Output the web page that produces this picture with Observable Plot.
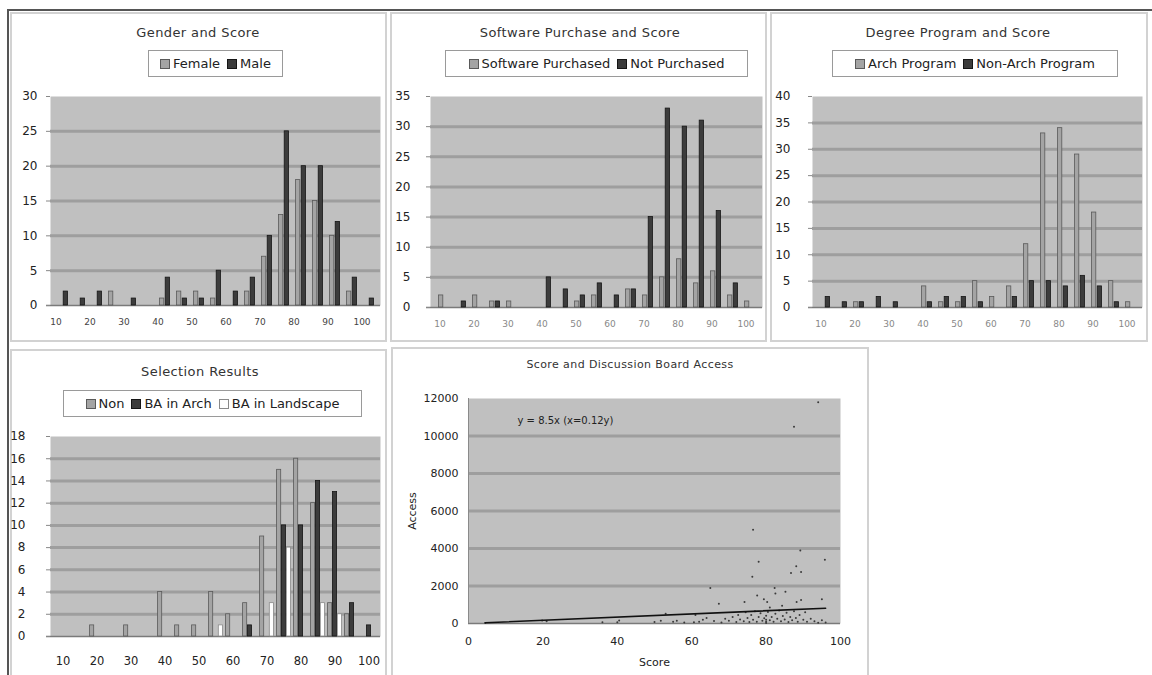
<!DOCTYPE html>
<html><head><meta charset="utf-8">
<script src="https://cdn.jsdelivr.net/npm/d3@7"></script>
<script src="https://cdn.jsdelivr.net/npm/@observablehq/plot@0.6"></script>
<style>
body{margin:0;background:#fff;}
#root{position:relative;width:1152px;height:675px;overflow:hidden;font-family:"DejaVu Sans",sans-serif;color:#222;}
.panel{position:absolute;border:2px solid #d2d2d2;box-sizing:border-box;background:#fff;}
.title{position:absolute;transform:translateX(-50%);white-space:nowrap;font-size:13px;line-height:14px;color:#333;letter-spacing:0.4px;}
.legend{position:absolute;box-sizing:border-box;border:1px solid #9a9a9a;background:#fff;display:flex;align-items:center;justify-content:center;gap:7px;font-size:13px;color:#222;white-space:nowrap;}
.legend .item{display:flex;align-items:center;}
.sw{display:inline-block;width:8px;height:8px;border:1px solid #444;margin-right:3px;}
.chart{position:absolute;}
</style></head>
<body>
<div id="root"></div>
<script>
// ---------- data ----------
const scoreBins = [10,15,20,25,30,35,40,45,50,55,60,65,70,75,80,85,90,95,100];
const xTickLabels = [10,20,30,40,50,60,70,80,90,100];

const genderFemale = [0,0,0,2,0,0,1,2,2,1,0,2,7,13,18,15,10,2,0];
const genderMale   = [2,1,2,0,1,0,4,1,1,5,2,4,10,25,20,20,12,4,1];

const swPurchased    = [2,0,2,1,1,0,0,0,1,2,0,3,2,5,8,4,6,2,1];
const swNotPurchased = [0,1,0,1,0,0,5,3,2,4,2,3,15,33,30,31,16,4,0];

const archProgram    = [0,0,1,0,0,0,4,1,1,5,2,4,12,33,34,29,18,5,1];
const nonArchProgram = [2,1,1,2,1,0,1,2,2,1,0,2,5,5,4,6,4,1,0];

const selNon         = [0,0,1,0,1,0,4,1,1,4,2,3,9,15,16,12,3,2,0];
const selBAArch      = [0,0,0,0,0,0,0,0,0,0,0,1,0,10,10,14,13,3,1];
const selBALandscape = [0,0,0,0,0,0,0,0,0,1,0,0,3,8,0,3,2,0,0];

const boardScore  = [94,87.5,76.5,78,76.3,89.2,88.1,86.7,89.4,95.8,65,67.3,74.2,77.6,79.4,80.3,82.3,82.5,85.2,88.2,89.4,95,84.3,81,
  4.5,19.8,21,36,40,40.5,50,51.7,53,55,56,58,60.6,61,62,63,64,66,68,69,70,71,72,72.5,73,74,74.5,75,75.5,76,76.5,77,77.5,78,78.5,79,79.5,
  80,80,80,80,80.5,81,81.5,82,82.5,83,83.5,84,84.5,85,85.5,86,86.5,87,87.5,88,88.5,89,90,90.5,91,92,93,94,95,96];
const boardAccess = [11800,10500,5000,3300,2500,3900,3050,2700,2750,3400,1900,1050,1150,1500,1300,1150,1900,1600,1700,1150,1250,1300,950,850,
  30,160,120,70,70,160,80,150,520,100,150,60,70,450,90,200,300,130,60,250,150,350,80,450,220,120,600,300,80,450,200,650,100,350,550,150,280,
  30,100,200,420,620,180,350,90,520,250,700,120,400,220,580,80,350,180,650,300,100,450,200,600,100,250,120,40,180,60];

const trendSlope = 8.5;
const trendScores = [4.5, 96];
const equationLabel = "y = 8.5x (x=0.12y)";

// ---------- layout helpers ----------
const root = document.getElementById("root");
function div(cls, css, html) {
  const d = document.createElement("div");
  d.className = cls;
  Object.assign(d.style, css);
  if (html !== undefined) d.innerHTML = html;
  root.appendChild(d);
  return d;
}
function px(v){return v + "px";}

// outer frame lines
div("", {position:"absolute", left:"8px", top:"9px", width:"1144px", height:"2px", background:"#555"});
div("", {position:"absolute", left:"7px", top:"9px", width:"2px", height:"670px", background:"#555"});

// panels
div("panel", {left:"10px", top:"12px", width:"377px", height:"330px"});
div("panel", {left:"390px", top:"12px", width:"377px", height:"330px"});
div("panel", {left:"770px", top:"12px", width:"378px", height:"330px"});
div("panel", {left:"10px", top:"349px", width:"377px", height:"340px"});
div("panel", {left:"391px", top:"347px", width:"478px", height:"340px"});

function title(text, cx, cy, size) {
  div("title", {left:px(cx), top:px(cy - 7), fontSize: px(size || 13)}, text);
}
function legend(items, left, top, w, h) {
  const html = items.map(it => `<span class="item"><span class="sw" style="background:${it.fill};border-color:${it.stroke}"></span>${it.name}</span>`).join("");
  div("legend", {left:px(left), top:px(top), width:px(w), height:px(h)}, html);
}

function barChart(cfg) {
  const ml = 48, mr = 6, mt = 10, mb = 36;
  const rows = [];
  cfg.series.forEach(s => scoreBins.forEach((b, i) => rows.push({bin: b, series: s.name, value: s.values[i]})));
  const yTicks = d3.range(0, cfg.yMax + 0.001, cfg.yStep);
  const grid = yTicks.filter(t => t > 0 && t < cfg.yMax);
  const chart = Plot.plot({
    width: ml + cfg.w + mr, height: mt + cfg.h + mb,
    marginLeft: ml, marginRight: mr, marginTop: mt, marginBottom: mb,
    style: {background: "transparent", fontFamily: "DejaVu Sans, sans-serif", overflow: "visible"},
    x: {type: "band", domain: scoreBins, padding: 0},
    y: {domain: [0, cfg.yMax]},
    marks: [
      Plot.frame({fill: "#c0c0c0", stroke: "none"}),
      Plot.gridY(grid, {stroke: "#9e9e9e", strokeOpacity: 1, strokeWidth: 3}),
      Plot.ruleY([0], {stroke: "#7a7a7a", strokeWidth: 1.5, insetLeft: -4}),
      ...cfg.series.map(s => Plot.barY(rows.filter(r => r.series === s.name), {
        x: "bin", y: "value", fill: s.fill, stroke: s.stroke, strokeWidth: 0.8,
        insetLeft: s.il, insetRight: s.ir
      })),
      Plot.axisY(yTicks, {tickSize: 4, tickPadding: cfg.yPad, fontSize: cfg.yFont, fill: "#222", stroke: "#888", label: null}),
      Plot.axisX(xTickLabels, {tickSize: 0, tickPadding: cfg.xPad, fontSize: cfg.xFont, fill: cfg.xFill, dx: cfg.xDx || 0, label: null})
    ]
  });
  chart.classList.add("chart");
  chart.style.position = "absolute";
  chart.style.left = px(cfg.left - ml);
  chart.style.top = px(cfg.top - mt);
  root.appendChild(chart);
}

const LIGHT = {fill: "#a4a4a4", stroke: "#5a5a5a"};
const DARK = {fill: "#3c3c3c", stroke: "#161616"};
const WHITE = {fill: "#ffffff", stroke: "#8a8a8a"};

// Panel 1
title("Gender and Score", 198, 33);
legend([{name:"Female", ...LIGHT}, {name:"Male", ...DARK}], 148, 50, 135, 27);
barChart({left: 50, top: 96, w: 330, h: 209, yMax: 30, yStep: 5, yPad: 9, yFont: 12, xPad: 13, xFont: 9, xFill: "#444", xDx: -7,
  series: [{name:"Female", values: genderFemale, ...LIGHT, il: 3.5, ir: 9.2}, {name:"Male", values: genderMale, ...DARK, il: 9.2, ir: 3.5}]});

// Panel 2
title("Software Purchase and Score", 580, 33);
legend([{name:"Software Purchased", ...LIGHT}, {name:"Not Purchased", ...DARK}], 445, 50, 303, 27);
barChart({left: 430, top: 96, w: 332, h: 211, yMax: 35, yStep: 5, yPad: 16, yFont: 12, xPad: 13, xFont: 9, xFill: "#888", xDx: -4,
  series: [{name:"Software Purchased", values: swPurchased, ...LIGHT, il: 3.5, ir: 9.2}, {name:"Not Purchased", values: swNotPurchased, ...DARK, il: 9.2, ir: 3.5}]});

// Panel 3
title("Degree Program and Score", 958, 33);
legend([{name:"Arch Program", ...LIGHT}, {name:"Non-Arch Program", ...DARK}], 832, 50, 286, 27);
barChart({left: 812, top: 96, w: 330, h: 211, yMax: 40, yStep: 5, yPad: 18, yFont: 12, xPad: 13, xFont: 9, xFill: "#888", xDx: -4,
  series: [{name:"Arch Program", values: archProgram, ...LIGHT, il: 3.5, ir: 9.2}, {name:"Non-Arch Program", values: nonArchProgram, ...DARK, il: 9.2, ir: 3.5}]});

// Panel 4
title("Selection Results", 200, 372);
legend([{name:"Non", ...LIGHT}, {name:"BA in Arch", ...DARK}, {name:"BA in Landscape", ...WHITE}], 63, 390, 299, 27);
barChart({left: 50, top: 436, w: 330, h: 200, yMax: 18, yStep: 2, yPad: 21, yFont: 12, xPad: 20, xFont: 11.5, xFill: "#222", xDx: 0,
  series: [{name:"Non", values: selNon, ...LIGHT, il: 1.6, ir: 11.3}, {name:"BA in Arch", values: selBAArch, ...DARK, il: 6.4, ir: 6.4}, {name:"BA in Landscape", values: selBALandscape, ...WHITE, il: 11.3, ir: 1.6}]});

// Panel 5 scatter
title("Score and Discussion Board Access", 630, 365, 11);
(function(){
  const ml = 72, mr = 12, mt = 10, mb = 52;
  const w = 372, h = 225;
  const points = boardScore.map((s, i) => ({score: s, access: boardAccess[i]}));
  const trend = trendScores.map(s => ({score: s, access: trendSlope * s}));
  const yTicks = d3.range(0, 12001, 2000);
  const chart = Plot.plot({
    width: ml + w + mr, height: mt + h + mb,
    marginLeft: ml, marginRight: mr, marginTop: mt, marginBottom: mb,
    style: {background: "transparent", fontFamily: "DejaVu Sans, sans-serif", overflow: "visible"},
    x: {domain: [0, 100]},
    y: {domain: [0, 12000]},
    marks: [
      Plot.frame({fill: "#c0c0c0", stroke: "none"}),
      Plot.gridY(yTicks.filter(t => t > 0 && t < 12000), {stroke: "#9e9e9e", strokeOpacity: 1, strokeWidth: 3}),
      Plot.ruleY([0], {stroke: "#7a7a7a", strokeWidth: 1.5}),
      Plot.ruleX([0], {stroke: "#8a8a8a", strokeWidth: 1}),
      Plot.dot(points, {x: "score", y: "access", r: 1, fill: "#3a3a3a", stroke: "none"}),
      Plot.line(trend, {x: "score", y: "access", stroke: "#111", strokeWidth: 1.6}),
      Plot.text([equationLabel], {frameAnchor: "top-left", dx: 49, dy: 22, lineAnchor: "middle", fontSize: 10, fill: "#222"}),
      Plot.axisY(yTicks, {tickSize: 0, tickPadding: 10, fontSize: 11, fill: "#222", tickFormat: d => String(d),
        label: "Access", labelAnchor: "center", labelOffset: 60, labelArrow: "none"}),
      Plot.axisX(d3.range(0, 101, 20), {tickSize: 0, tickPadding: 14, fontSize: 11, fill: "#222",
        label: "Score", labelAnchor: "center", labelOffset: 42, labelArrow: "none"})
    ]
  });
  chart.style.position = "absolute";
  chart.style.left = px(468 - ml);
  chart.style.top = px(398 - mt);
  root.appendChild(chart);
})();
</script>
</body></html>
